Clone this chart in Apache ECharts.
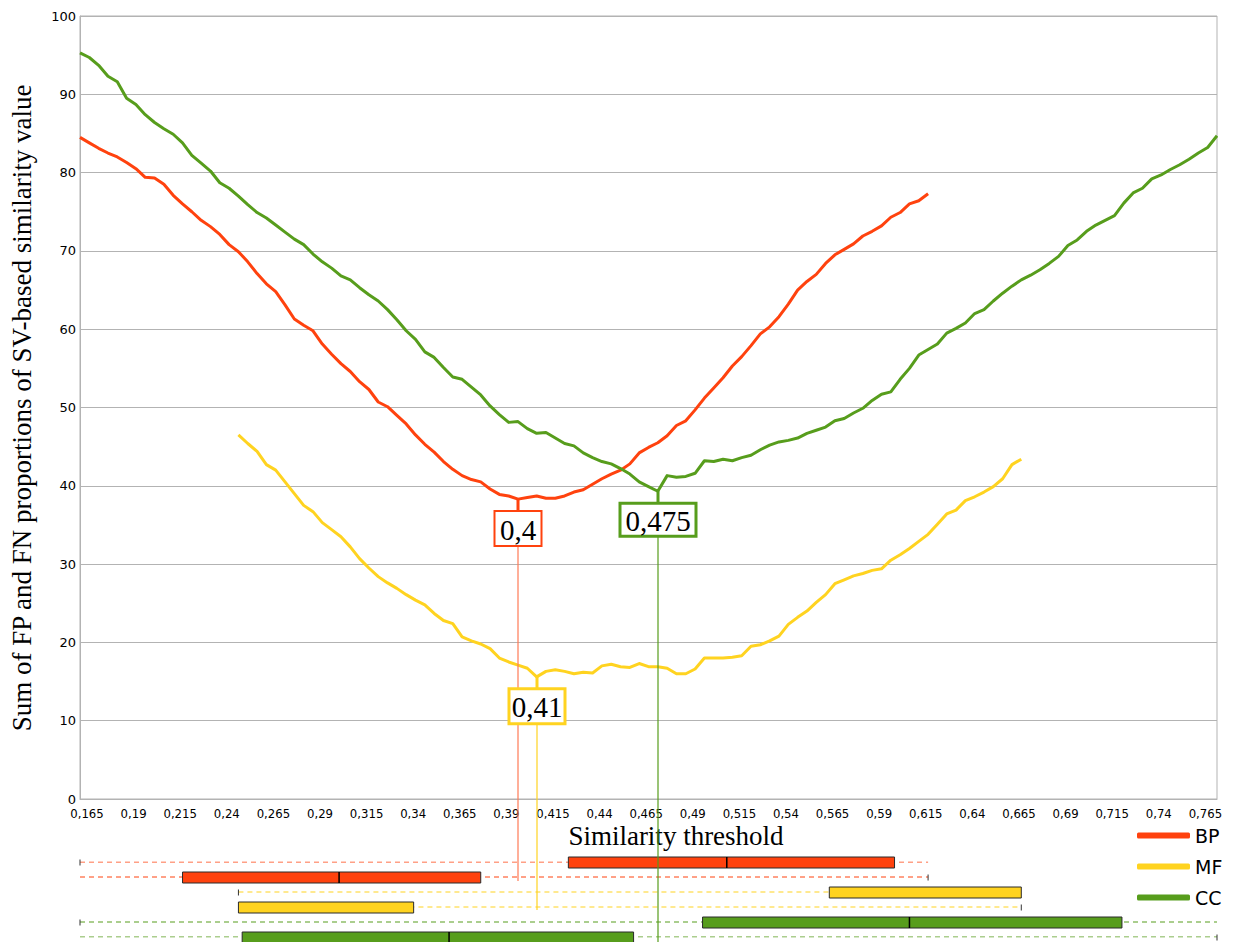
<!DOCTYPE html>
<html><head><meta charset="utf-8">
<script src="https://cdn.jsdelivr.net/npm/echarts@6/dist/echarts.min.js"></script>
<style>html,body{margin:0;padding:0;background:#fff}#c{width:1236px;height:942px}</style>
</head><body><div id="c"></div>
<script>
// ---------------- DATA ----------------
const thresholds = [
0.165,0.17,0.175,0.18,0.185,0.19,0.195,0.2,0.205,0.21,
0.215,0.22,0.225,0.23,0.235,0.24,0.245,0.25,0.255,0.26,
0.265,0.27,0.275,0.28,0.285,0.29,0.295,0.3,0.305,0.31,
0.315,0.32,0.325,0.33,0.335,0.34,0.345,0.35,0.355,0.36,
0.365,0.37,0.375,0.38,0.385,0.39,0.395,0.4,0.405,0.41,
0.415,0.42,0.425,0.43,0.435,0.44,0.445,0.45,0.455,0.46,
0.465,0.47,0.475,0.48,0.485,0.49,0.495,0.5,0.505,0.51,
0.515,0.52,0.525,0.53,0.535,0.54,0.545,0.55,0.555,0.56,
0.565,0.57,0.575,0.58,0.585,0.59,0.595,0.6,0.605,0.61,
0.615,0.62,0.625,0.63,0.635,0.64,0.645,0.65,0.655,0.66,
0.665,0.67,0.675,0.68,0.685,0.69,0.695,0.7,0.705,0.71,
0.715,0.72,0.725,0.73,0.735,0.74,0.745,0.75,0.755,0.76,
0.765,0.77,0.775];

const seriesNames = ['BP', 'MF', 'CC'];
const seriesColors = ['#ff420e', '#ffd320', '#579d1c'];

// BP: thresholds 0.165 .. 0.62
const bpStart = 0.165;
const bpValues = [
84.5,83.8,83.1,82.5,82.0,81.3,80.5,79.4,79.3,78.5,
77.1,76.0,75.0,73.9,73.1,72.1,70.8,69.9,68.6,67.1,
65.8,64.8,63.1,61.3,60.5,59.8,58.1,56.8,55.6,54.6,
53.3,52.3,50.7,50.1,49.0,47.9,46.5,45.3,44.3,43.1,
42.1,41.3,40.8,40.5,39.6,38.9,38.7,38.3,38.5,38.7,
38.4,38.4,38.7,39.2,39.5,40.2,40.9,41.5,42.0,42.8,
44.2,44.9,45.5,46.4,47.7,48.3,49.7,51.2,52.5,53.8,
55.3,56.5,57.9,59.4,60.3,61.6,63.2,65.0,66.1,67.0,
68.4,69.5,70.2,70.9,71.9,72.5,73.2,74.3,74.9,76.0,
76.4,77.3];

// MF: thresholds 0.25 .. 0.67
const mfStart = 0.25;
const mfValues = [
46.5,45.4,44.4,42.7,42.0,40.5,39.0,37.5,36.7,35.3,
34.4,33.5,32.2,30.7,29.5,28.4,27.6,26.9,26.1,25.4,
24.8,23.7,22.8,22.4,20.7,20.2,19.8,19.2,18.0,17.5,
17.1,16.7,15.6,16.3,16.5,16.3,16.0,16.2,16.1,17.0,
17.2,16.9,16.8,17.3,16.9,16.9,16.7,16.0,16.0,16.6,
18.0,18.0,18.0,18.1,18.3,19.5,19.7,20.2,20.8,22.3,
23.2,24.0,25.1,26.1,27.5,28.0,28.5,28.8,29.2,29.4,
30.5,31.2,32.0,32.9,33.8,35.1,36.4,36.9,38.1,38.6,
39.2,39.9,40.9,42.7,43.4];

// CC: thresholds 0.165 .. 0.775
const ccStart = 0.165;
const ccValues = [
95.3,94.7,93.7,92.3,91.6,89.5,88.7,87.4,86.4,85.6,
84.9,83.8,82.2,81.2,80.2,78.7,78.0,77.0,75.9,74.9,
74.2,73.3,72.4,71.5,70.8,69.6,68.6,67.8,66.8,66.3,
65.3,64.4,63.6,62.5,61.2,59.8,58.7,57.1,56.4,55.1,
53.9,53.6,52.6,51.6,50.2,49.1,48.1,48.2,47.3,46.7,
46.8,46.1,45.4,45.1,44.2,43.6,43.1,42.8,42.2,41.5,
40.5,39.9,39.3,41.3,41.1,41.2,41.6,43.2,43.1,43.4,
43.2,43.6,43.9,44.6,45.2,45.6,45.8,46.1,46.7,47.1,
47.5,48.3,48.6,49.3,49.9,50.9,51.7,52.0,53.6,55.0,
56.7,57.4,58.1,59.5,60.1,60.8,62.0,62.5,63.6,64.6,
65.5,66.3,66.9,67.6,68.4,69.3,70.7,71.4,72.5,73.3,
73.9,74.5,76.1,77.4,78.0,79.2,79.7,80.4,81.0,81.7,
82.5,83.2,84.7];

// Box summaries below the chart: [min, q1, median, q3, max] (two rows per series)
const bpBoxes = [[0.165, 0.427, 0.512, 0.602, 0.62], [0.165, 0.220, 0.304, 0.380, 0.62]];
const mfBoxes = [[0.25, 0.567, null, 0.67, 0.67], [0.25, 0.25, null, 0.344, 0.67]];
const ccBoxes = [[0.165, 0.499, 0.610, 0.724, 0.775], [0.165, 0.252, 0.363, 0.462, 0.775]];
const boxRowNames = ['BP-1', 'BP-2', 'MF-1', 'MF-2', 'CC-1', 'CC-2'];

const yAxisTitle = 'Sum of FP and FN proportions of SV-based similarity value';
const xAxisTitle = 'Similarity threshold';

// ---------------- BUILD ----------------
const fmt = t => String(t).replace('.', ',');
const categories = thresholds.map(fmt);
function align(values, start) {
  const s = thresholds.indexOf(start);
  return thresholds.map((t, i) => (i >= s && i - s < values.length) ? values[i - s] : null);
}
const aligned = [align(bpValues, bpStart), align(mfValues, mfStart), align(ccValues, ccStart)];

// minimum of each curve -> annotation
const annoStyle = [
  {boxW: 47, boxH: 35, border: 2, lineEnd: 881, thin: '#ff7a55'},
  {boxW: 56, boxH: 35, border: 3, lineEnd: 910, thin: '#ffd320'},
  {boxW: 76, boxH: 33, border: 3, lineEnd: 942, thin: '#579d1c'}
];
const minima = aligned.map(arr => {
  let bi = -1, bv = Infinity;
  arr.forEach((v, i) => { if (v != null && v < bv) { bv = v; bi = i; } });
  return [bi, bv];
});

const boxSets = [bpBoxes, mfBoxes, ccBoxes];
const boxRows = [];
boxSets.forEach((set, si) => set.forEach((st, ri) => boxRows.push({series: si, stats: st, row: boxRows.length, tickRight: ri === 1})));

const chart = echarts.init(document.getElementById('c'), null, {renderer: 'svg'});

const lineSeries = seriesNames.map((n, si) => ({
  name: n, type: 'line', xAxisIndex: 0, yAxisIndex: 0,
  data: aligned[si], symbol: 'none', showSymbol: false, connectNulls: false,
  lineStyle: {color: seriesColors[si], width: 3, join: 'round'},
  itemStyle: {color: seriesColors[si]},
  z: 3, animation: false
}));

// dashed whisker lines: one library line series per row
const whiskerSeries = boxRows.map(r => ({
  name: boxRowNames[r.row], type: 'line', xAxisIndex: 1, yAxisIndex: 1,
  data: [[r.stats[0], r.row], [r.stats[4], r.row]],
  symbol: 'none', showSymbol: false, silent: true, animation: false, z: 2,
  color: seriesColors[r.series],
  itemStyle: {color: seriesColors[r.series]},
  lineStyle: {color: seriesColors[r.series], width: 1, type: [5, 4]}
}));

const annoSeries = {
  type: 'custom', xAxisIndex: 0, yAxisIndex: 0, z: 10, silent: true, clip: false, animation: false,
  data: minima.map(m => m),
  renderItem: function (params, api) {
    const si = params.dataIndex;
    const st = annoStyle[si];
    const col = seriesColors[si];
    const p = api.coord([api.value(0), api.value(1)]);
    const x = Math.round(p[0]);
    const top = p[1] + 12;
    return {
      type: 'group', children: [
        {type: 'line', shape: {x1: x, y1: p[1], x2: x, y2: top}, style: {stroke: col, lineWidth: 3}},
        {type: 'line', shape: {x1: x, y1: top + st.boxH, x2: x, y2: st.lineEnd}, style: {stroke: st.thin, lineWidth: 1.2}},
        {type: 'rect', shape: {x: x - st.boxW / 2, y: top, width: st.boxW, height: st.boxH},
          style: {fill: '#ffffff', stroke: col, lineWidth: st.border}},
        {type: 'text', x: x, y: top + st.boxH / 2 + 1,
          style: {text: fmt(thresholds[api.value(0)]), font: '29px "Liberation Serif", "Times New Roman", serif',
            fill: '#000', align: 'center', verticalAlign: 'middle'}}
      ]
    };
  }
};

const boxSeries = {
  type: 'custom', xAxisIndex: 1, yAxisIndex: 1, z: 4, silent: true, clip: false, animation: false,
  data: boxRows.map(r => [r.stats[0], r.row]),
  renderItem: function (params, api) {
    const r = boxRows[params.dataIndex];
    const col = seriesColors[r.series];
    const [mn, q1, md, q3, mx] = r.stats;
    const X = v => api.coord([v, r.row])[0];
    const y = Math.round(api.coord([mn, r.row])[1]) + 0.5;
    const h = 11;
    const ch = [];
    ch.push({type: 'rect', shape: {x: X(q1), y: y - h / 2, width: X(q3) - X(q1), height: h},
        style: {fill: col, stroke: '#2a2a2a', lineWidth: 1}});
    if (md != null) ch.push({type: 'line', shape: {x1: X(md), y1: y - h / 2, x2: X(md), y2: y + h / 2}, style: {stroke: '#000', lineWidth: 1.5}});
    const tx = r.tickRight ? X(mx) : X(mn);
    ch.push({type: 'line', shape: {x1: tx, y1: y - 3, x2: tx, y2: y + 3}, style: {stroke: '#333', lineWidth: 1}});
    return {type: 'group', children: ch};
  }
};

const option = {
  animation: false,
  backgroundColor: '#ffffff',
  grid: [
    {left: 80, right: 19, top: 16, bottom: 143, show: true, borderColor: '#b3b3b3', borderWidth: 1, backgroundColor: 'transparent'},
    {left: 80, right: 19, top: 862, bottom: 5}
  ],
  xAxis: [
    {type: 'category', gridIndex: 0, data: categories, boundaryGap: false,
      axisLine: {show: true, lineStyle: {color: '#b3b3b3', width: 1}},
      axisTick: {show: false},
      axisLabel: {interval: 4, fontSize: 13, color: '#000', margin: 8, padding: [0, 0, 0, 14],
        fontFamily: '"DejaVu Sans Condensed", "DejaVu Sans", sans-serif'},
      splitLine: {show: false}},
    {type: 'value', gridIndex: 1, min: thresholds[0], max: thresholds[thresholds.length - 1], show: false}
  ],
  yAxis: [
    {type: 'value', gridIndex: 0, min: 0, max: 100, interval: 10,
      axisLine: {show: true, lineStyle: {color: '#b3b3b3', width: 1}},
      axisTick: {show: false},
      axisLabel: {fontSize: 13, color: '#000', margin: 4, fontFamily: '"DejaVu Sans", sans-serif'},
      splitLine: {show: true, lineStyle: {color: '#b3b3b3', width: 1}}},
    {type: 'category', gridIndex: 1, data: boxRowNames, inverse: true, boundaryGap: false, show: false}
  ],
  legend: {
    orient: 'vertical', left: 1132, top: 821, itemWidth: 53, itemHeight: 6, itemGap: 12,
    icon: 'roundRect', data: seriesNames,
    textStyle: {fontSize: 19, color: '#000', fontFamily: '"DejaVu Sans", sans-serif'}
  },
  graphic: [
    {type: 'text', x: 22, y: 408, rotation: Math.PI / 2,
      style: {text: yAxisTitle, font: '27px "Liberation Serif", "Times New Roman", serif', fill: '#000', align: 'center', verticalAlign: 'middle'}},
    {type: 'text', x: 676, y: 836,
      style: {text: xAxisTitle, font: '27px "Liberation Serif", "Times New Roman", serif', fill: '#000', align: 'center', verticalAlign: 'middle'}}
  ],
  series: lineSeries.concat(whiskerSeries, [boxSeries, annoSeries])
};
chart.setOption(option);
</script>
</body></html>
